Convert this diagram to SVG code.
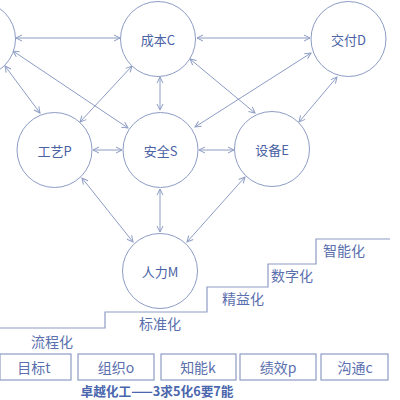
<svg xmlns="http://www.w3.org/2000/svg" width="400" height="400" viewBox="0 0 400 400">
<style>
.n{fill:#fff;stroke:#8d9cc4;stroke-width:1}
.t{font-family:"Noto Sans CJK SC","Liberation Sans",sans-serif;font-size:13px;fill:#4a62a4;text-anchor:middle;dominant-baseline:central}
.c{stroke:#8d9cc4;stroke-width:1;fill:none;marker-start:url(#a);marker-end:url(#a)}
.s{stroke:#8d9cc4;stroke-width:1.2;fill:none}
.b{fill:#fff;stroke:#8d9cc4;stroke-width:1.2}
.l{font-family:"Noto Sans CJK SC","Liberation Sans",sans-serif;font-size:14px;fill:#5a6fae;text-anchor:middle;dominant-baseline:central}
.h{font-family:"Noto Sans CJK SC","Liberation Sans",sans-serif;font-size:13px;font-weight:bold;fill:#4a66ac;text-anchor:middle;dominant-baseline:central}
</style>
<defs>
<marker id="a" viewBox="0 0 8 8" refX="7" refY="4" markerWidth="8" markerHeight="8" markerUnits="userSpaceOnUse" orient="auto-start-reverse">
<path d="M1,1 L7,4 L1,7" fill="none" stroke="#8d9cc4" stroke-width="1"/>
</marker>
</defs>
<g id="connectors">
<line class="c" x1="16" y1="38" x2="120" y2="38"/>
<line class="c" x1="197" y1="38" x2="310" y2="38"/>
<line class="c" x1="13" y1="51" x2="128" y2="128"/>
<line class="c" x1="5" y1="66" x2="40" y2="113"/>
<line class="c" x1="132" y1="66" x2="80" y2="122"/>
<line class="c" x1="160" y1="77" x2="160" y2="110"/>
<line class="c" x1="311" y1="53" x2="195" y2="127"/>
<line class="c" x1="190" y1="59" x2="255" y2="113"/>
<line class="c" x1="337" y1="77" x2="299" y2="122"/>
<line class="c" x1="93" y1="150" x2="122" y2="150"/>
<line class="c" x1="199" y1="150" x2="234" y2="150"/>
<line class="c" x1="245" y1="177" x2="187" y2="242"/>
<line class="c" x1="160" y1="189" x2="160" y2="232"/>
<line class="c" x1="82" y1="178" x2="133" y2="242"/>
</g>
<g id="nodeL"><circle class="n" cx="-22" cy="39" r="37.5"/></g>
<g id="nodeC"><circle class="n" cx="158" cy="39" r="37.5"/><text class="t" x="158" y="39">成本C</text></g>
<g id="nodeD"><circle class="n" cx="348.5" cy="39" r="37.5"/><text class="t" x="348.5" y="39">交付D</text></g>
<g id="nodeP"><circle class="n" cx="54.5" cy="150" r="37.5"/><text class="t" x="54.5" y="150">工艺P</text></g>
<g id="nodeS"><circle class="n" cx="160.5" cy="150" r="37.5"/><text class="t" x="160.5" y="150">安全S</text></g>
<g id="nodeE"><circle class="n" cx="272" cy="149" r="37.5"/><text class="t" x="272" y="149">设备E</text></g>
<g id="nodeM"><circle class="n" cx="160" cy="271" r="37.5"/><text class="t" x="160" y="271">人力M</text></g>
<g id="steps">
<path class="s" d="M0,328 H105 V312 H207 V287 H268 V264 H316 V239 H390"/>
<text class="l" x="52" y="341">流程化</text>
<text class="l" x="160" y="323">标准化</text>
<text class="l" x="243" y="298">精益化</text>
<text class="l" x="292" y="275">数字化</text>
<text class="l" x="344" y="250">智能化</text>
</g>
<g id="boxes">
<rect class="b" x="0" y="354" width="71" height="26"/>
<text class="l" x="34" y="367">目标t</text>
<rect class="b" x="78" y="354" width="76" height="26"/>
<text class="l" x="116" y="367">组织o</text>
<rect class="b" x="161" y="354" width="75" height="26"/>
<text class="l" x="198" y="367">知能k</text>
<rect class="b" x="240" y="354" width="76" height="26"/>
<text class="l" x="278" y="367">绩效p</text>
<rect class="b" x="321" y="354" width="67" height="26"/>
<text class="l" x="355" y="367">沟通c</text>
</g>
<text class="h" x="157" y="390" textLength="153" lengthAdjust="spacingAndGlyphs">卓越化工——3求5化6要7能</text>
</svg>
